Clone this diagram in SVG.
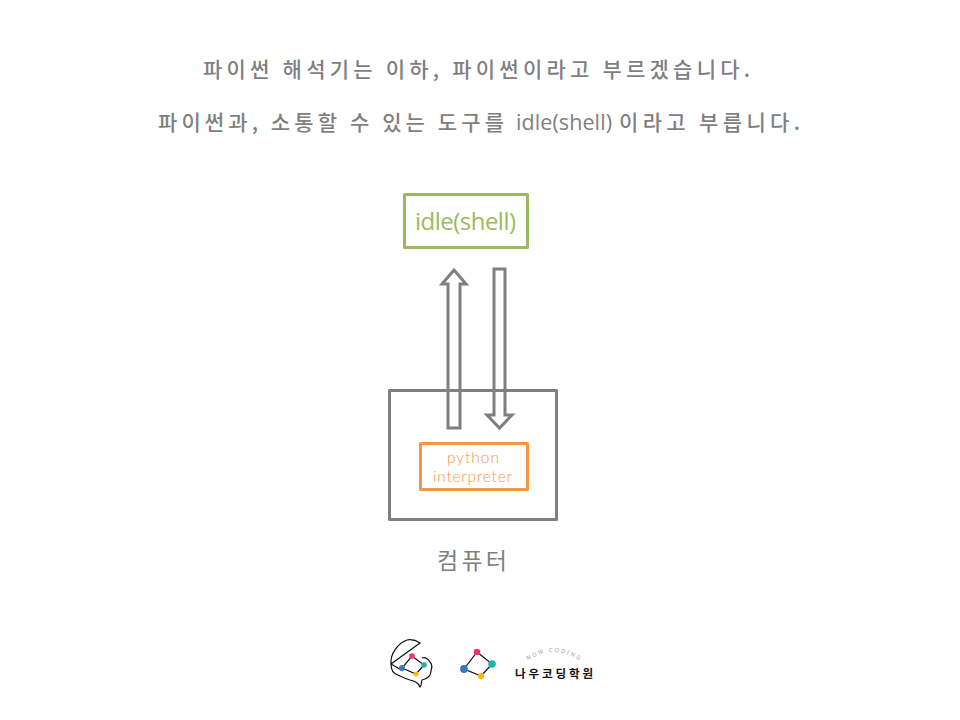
<svg xmlns="http://www.w3.org/2000/svg" width="960" height="720" viewBox="0 0 960 720">
<style>
.t{font-family:"Noto Sans CJK KR","Noto Sans",sans-serif;fill:#7f7f7f;font-size:21px;font-weight:500}
.l{font-family:"Open Sans","Noto Sans",sans-serif;font-weight:500;font-size:21.500px}
.a{fill:#fff;stroke:#7f7f7f;stroke-width:3;stroke-linejoin:miter}
.b{fill:none;stroke-width:3;stroke-linejoin:round}
.k{stroke:#111;stroke-width:1.200;fill:none}
</style>
<rect width="960" height="720" fill="#fff"/>
<text class="t" x="203" y="77" textLength="547">파이썬 해석기는 이하, 파이썬이라고 부르겠습니다.</text>
<text class="t" x="158" y="130" textLength="346">파이썬과, 소통할 수 있는 도구를</text>
<text class="t l" x="516" y="130" textLength="96">idle(shell)</text>
<text class="t" x="619" y="130" textLength="181">이라고 부릅니다.</text>
<g id="connectors">
<path class="a" d="M448 428V284H442L454 270L466 284H460V428Z"/>
<path class="a" d="M494 269H505V415H512L499.500 428L487 415H494Z"/>
</g>
<g id="idle"><rect class="b" x="404.500" y="194.500" width="123" height="53" stroke="#9bbb59"/>
<text x="415" y="230" font-family="Open Sans,sans-serif" font-weight="400" font-size="24" fill="#9bbb59" textLength="101">idle(shell)</text></g>
<g id="computer"><rect class="b" x="389.500" y="390.500" width="167" height="129" stroke="#7f7f7f"/>
<text x="437" y="569" font-family="Noto Sans CJK KR,sans-serif" font-size="23" fill="#7f7f7f" textLength="70">컴퓨터</text></g>
<g id="python"><rect class="b" x="420.500" y="443.500" width="107" height="46" stroke="#f79646"/>
<text x="447" y="463" font-family="Lato,sans-serif" font-weight="300" font-size="15.500" fill="#f79646" textLength="52">python</text>
<text x="433" y="482" font-family="Lato,sans-serif" font-weight="300" font-size="15.500" fill="#f79646" textLength="79">interpreter</text></g>
<g id="logo">
<path class="k" d="M391 664C390 654 398 643 407 640C412 639 417 641 420 643L391 664L403 671M391 664C391 671 394 674 398 675C402 677 406 679 410 680C414 681 418 682 420 687C422 685 421 682 422 680C427 679 431 676 431 671C432 668 432 664 430 662C428 659 425 657 422 658"/>
<path class="k" d="M412 656L424 665L416 674L402 668Z"/>
<circle cx="412" cy="656" r="2.800" fill="#e8386d"/><circle cx="424" cy="665" r="2.800" fill="#1fb5a8"/><circle cx="416" cy="674" r="2.500" fill="#fdb913"/><circle cx="402" cy="668" r="3" fill="#3b78c2"/>
<path class="k" d="M477 652L492 664L481 676L464 669Z"/>
<circle cx="477" cy="652" r="3.300" fill="#e8386d"/><circle cx="492" cy="664" r="3.800" fill="#1fb5a8"/><circle cx="481" cy="676" r="3.200" fill="#fdb913"/><circle cx="464" cy="669" r="3.900" fill="#3b78c2"/>
<path d="M527 661Q553 643 581 661" fill="none" id="arc"/>
<text font-family="Noto Sans,sans-serif" font-size="5.500" fill="#999" letter-spacing="2"><textPath href="#arc" startOffset="1">NOW CODING</textPath></text>
<text x="515" y="678" font-family="Noto Sans CJK KR,sans-serif" font-size="11.500" font-weight="700" fill="#111" textLength="78">나우코딩학원</text>
</g>
</svg>
